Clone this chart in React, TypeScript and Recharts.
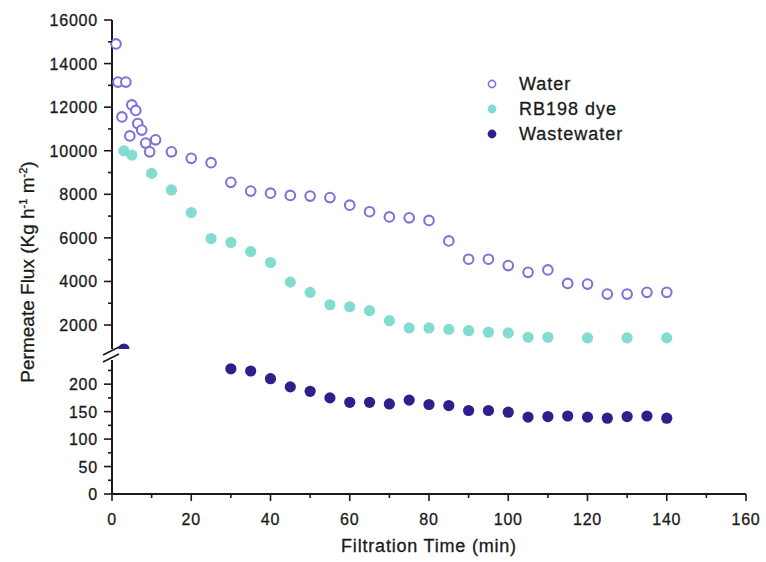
import { ScatterChart, Scatter, XAxis, YAxis, Legend, Label } from "recharts";

// Water (open circles)
const waterTime = [1, 1.5, 2.5, 3.5, 4.5, 5, 6, 6.5, 7.5, 8.5, 9.5, 11, 15, 20, 25, 30, 35, 40, 45, 50, 55, 60, 65, 70, 75, 80, 85, 90, 95, 100, 105, 110, 115, 120, 125, 130, 135, 140];
const waterFlux = [14900, 13150, 11550, 13150, 10680, 12100, 11850, 11250, 10950, 10350, 9950, 10500, 9950, 9650, 9450, 8550, 8150, 8050, 7950, 7920, 7850, 7500, 7200, 6960, 6920, 6800, 5860, 5020, 5020, 4730, 4420, 4530, 3910, 3880, 3420, 3420, 3500, 3500];

// RB198 dye
const dyeTime = [3, 5, 10, 15, 20, 25, 30, 35, 40, 45, 50, 55, 60, 65, 70, 75, 80, 85, 90, 95, 100, 105, 110, 120, 130, 140];
const dyeFlux = [10000, 9800, 8960, 8200, 7160, 5970, 5790, 5370, 4870, 3970, 3500, 2930, 2840, 2660, 2200, 1865, 1865, 1800, 1740, 1670, 1640, 1440, 1440, 1410, 1410, 1410];

// Wastewater: one early point sits on the axis break, the rest in the lower panel
const wasteEarlyTime = [3];
const wasteEarlyFlux = [900];
const wasteTime = [30, 35, 40, 45, 50, 55, 60, 65, 70, 75, 80, 85, 90, 95, 100, 105, 110, 115, 120, 125, 130, 135, 140];
const wasteFlux = [228, 224, 210, 195, 187, 175, 167, 167, 164, 171, 163, 161, 152, 152, 149, 140, 141, 142, 140, 138, 141, 142, 138];

const xTicks = [0, 10, 20, 30, 40, 50, 60, 70, 80, 90, 100, 110, 120, 130, 140, 150, 160];
const upperTicks = [2000, 3000, 4000, 5000, 6000, 7000, 8000, 9000, 10000, 11000, 12000, 13000, 14000, 15000, 16000];
const lowerTicks = [0, 25, 50, 75, 100, 125, 150, 175, 200, 225];

const toPoints = (t: number[], v: number[]) => t.map((x, i) => ({ t: x, flux: v[i] }));

const WATER = "#7c74d8";
const DYE = "#82dccf";
const WASTE = "#2e1f8c";
const INK = "#1a1a1a";
const FONT = "'Liberation Sans', Arial, sans-serif";

const openDot = (p: any) => (
  <circle cx={p.cx} cy={p.cy} r={4.8} fill="#fff" stroke={WATER} strokeWidth={2.1} />
);
const dyeDot = (p: any) => <circle cx={p.cx} cy={p.cy} r={5.6} fill={DYE} />;
const wasteDot = (p: any) => <circle cx={p.cx} cy={p.cy} r={5.6} fill={WASTE} />;

// text is slightly heavy in the original
const textStyle = { fill: INK, fontFamily: FONT, stroke: INK, strokeWidth: 0.3 };

const YTick = ({ x, y, payload, step }: any) => {
  const major = payload.value % step === 0;
  return (
    <g>
      <line x1={x - (major ? 8 : 4)} x2={x} y1={y} y2={y} stroke={INK} strokeWidth={1.6} />
      {major && (
        <text x={x - 14} y={y} dy={6} textAnchor="end" fontSize={16} letterSpacing={0.8} {...textStyle}>
          {payload.value}
        </text>
      )}
    </g>
  );
};

const XTick = ({ x, y, payload }: any) => {
  const major = payload.value % 20 === 0;
  return (
    <g>
      <line x1={x} x2={x} y1={y} y2={y + (major ? 7 : 4)} stroke={INK} strokeWidth={1.6} />
      {major && (
        <text x={x} y={y + 31} textAnchor="middle" fontSize={16} letterSpacing={0.8} {...textStyle}>
          {payload.value}
        </text>
      )}
    </g>
  );
};

const legendRows = [
  { name: "Water", fill: "#fff", stroke: WATER, r: 3.6 },
  { name: "RB198 dye", fill: DYE, stroke: "none", r: 4.4 },
  { name: "Wastewater", fill: WASTE, stroke: "none", r: 4.4 },
];

const LegendBox = () => (
  <svg width={200} height={80}>
    {legendRows.map((row, i) => (
      <g key={row.name} transform={`translate(0, ${12 + i * 25})`}>
        <circle cx={8} cy={0} r={row.r} fill={row.fill} stroke={row.stroke} strokeWidth={1.6} />
        <text x={35} y={6} fontSize={18} letterSpacing={1} {...textStyle}>
          {row.name}
        </text>
      </g>
    ))}
  </svg>
);

export default function App() {
  return (
    <div style={{ position: "absolute", left: 0, top: 0, width: 766, height: 562, background: "#fff", fontFamily: FONT }}>
      {/* upper panel: 900 - 16000 */}
      <div style={{ position: "absolute", left: 0, top: 0 }}>
        <ScatterChart width={766} height={349} margin={{ top: 20, right: 20, left: 0, bottom: 0 }}>
          <XAxis type="number" dataKey="t" domain={[0, 160]} hide />
          <YAxis
            type="number"
            dataKey="flux"
            domain={[900, 16000]}
            ticks={upperTicks}
            interval={0}
            allowDataOverflow
            width={112}
            tickSize={0}
            tickMargin={0}
            tickLine={false}
            axisLine={{ stroke: INK, strokeWidth: 2 }}
            tick={(p: any) => <YTick {...p} step={2000} />}
          />
          <Legend
            layout="horizontal"
            verticalAlign="middle"
            align="center"
            wrapperStyle={{ left: 484, top: 72, width: 200 }}
            content={() => <LegendBox />}
          />
          <Scatter name="Water" data={toPoints(waterTime, waterFlux)} shape={openDot} isAnimationActive={false} />
          <Scatter name="RB198 dye" data={toPoints(dyeTime, dyeFlux)} shape={dyeDot} isAnimationActive={false} />
          <Scatter name="Wastewater" data={toPoints(wasteEarlyTime, wasteEarlyFlux)} shape={wasteDot} isAnimationActive={false} />
        </ScatterChart>
      </div>

      {/* lower panel: 0 - 244 */}
      <div style={{ position: "absolute", left: 0, top: 0 }}>
        <ScatterChart width={766} height={562} margin={{ top: 360, right: 20, left: 0, bottom: 0 }}>
          <XAxis
            type="number"
            dataKey="t"
            domain={[0, 160]}
            ticks={xTicks}
            interval={0}
            height={68}
            tickSize={0}
            tickMargin={0}
            tickLine={false}
            axisLine={{ stroke: INK, strokeWidth: 2 }}
            tick={(p: any) => <XTick {...p} />}
          >
            <Label
              value="Filtration Time (min)"
              position="insideBottom"
              offset={10}
              fontSize={18}
              letterSpacing={0.8}
              {...textStyle}
            />
          </XAxis>
          <YAxis
            type="number"
            dataKey="flux"
            domain={[0, 244]}
            ticks={lowerTicks}
            interval={0}
            width={112}
            tickSize={0}
            tickMargin={0}
            tickLine={false}
            axisLine={{ stroke: INK, strokeWidth: 2 }}
            tick={(p: any) => <YTick {...p} step={50} />}
          />
          <Scatter name="Wastewater" data={toPoints(wasteTime, wasteFlux)} shape={wasteDot} isAnimationActive={false} />
        </ScatterChart>
      </div>

      {/* shared y title and axis break marks */}
      <svg width={766} height={562} style={{ position: "absolute", left: 0, top: 0, pointerEvents: "none" }}>
        <text
          transform="translate(34, 272) rotate(-90)"
          textAnchor="middle"
          fontSize={19}
          {...textStyle}
        >
          Permeate Flux (Kg h<tspan dy={-7} fontSize={11}>-1</tspan>
          <tspan dy={7}> m</tspan>
          <tspan dy={-7} fontSize={11}>-2</tspan>
          <tspan dy={7}>)</tspan>
        </text>
        <line x1={103} y1={355} x2={119} y2={347} stroke={INK} strokeWidth={1.6} />
        <line x1={103} y1={362} x2={119} y2={354} stroke={INK} strokeWidth={1.6} />
      </svg>
    </div>
  );
}
